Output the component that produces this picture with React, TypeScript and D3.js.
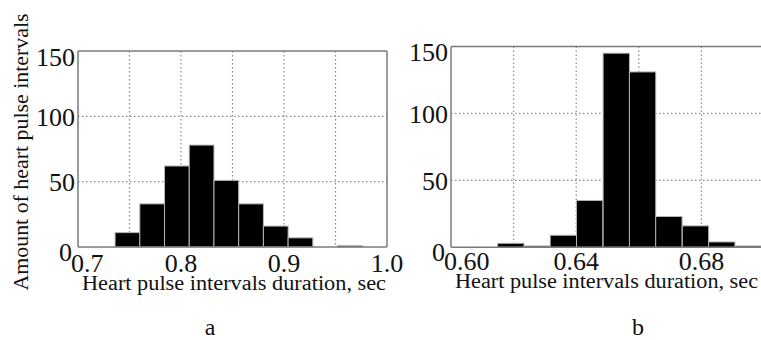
import React from 'react';
import * as d3 from 'd3';

// panel a: bin lower edges (sec) and counts
const leftBins = [0.736, 0.76, 0.784, 0.808, 0.832, 0.856, 0.88, 0.904, 0.928, 0.952, 0.976];
const leftCounts = [11, 33, 62, 78, 51, 33, 16, 7, 0, 1, 0];
const leftBinWidth = 0.024;
const leftGridX = [0.75, 0.8, 0.85, 0.9, 0.95];
const leftTickX = ['0.7', '0.8', '0.9', '1.0'];

// panel b
const rightBins = [0.6149, 0.6233, 0.6317, 0.6401, 0.6486, 0.657, 0.6654, 0.6739, 0.6823, 0.6907];
const rightCounts = [3, 1, 9, 35, 145, 131, 23, 16, 4, 1];
const rightBinWidth = 0.00842;
const rightGridX = [0.62, 0.64, 0.66, 0.68];
const rightTickX = ['0.60', '0.64', '0.68'];

const yTicks = [0, 50, 100, 150];
const yGrid = [50, 100];
const xTitle = 'Heart pulse intervals duration, sec';
const yTitle = 'Amount of heart pulse intervals';

const txt = { fontFamily: "'Liberation Serif', 'DejaVu Serif', 'Times New Roman', serif" };

const Panel = ({ domain, left, right, top, bottom, bins, counts, binWidth, gridX, tickX, boxRight, tickBase, titleBase, titleLen, letter, letterX }) => {
  const x = d3.scaleLinear().domain(domain).range([left, right]);
  const y = d3.scaleLinear().domain([0, 150]).range([bottom, top]);
  const axisColor = '#7a7a7a';
  return (
    <g>
      {/* grid */}
      {gridX.map((v) => (
        <line key={'gx' + v} x1={x(v)} x2={x(v)} y1={top} y2={bottom} stroke="#8a8a8a" strokeWidth={1.2} strokeDasharray="1.5,2.5" />
      ))}
      {yGrid.map((v) => (
        <line key={'gy' + v} x1={left} x2={right} y1={y(v)} y2={y(v)} stroke="#8a8a8a" strokeWidth={1.2} strokeDasharray="1.5,2.5" />
      ))}
      {/* bars */}
      {bins.map((b, i) =>
        counts[i] > 0 ? (
          <rect key={'b' + i} x={x(b)} y={y(counts[i])} width={x(b + binWidth) - x(b)} height={y(0) - y(counts[i])} fill="#000" stroke="#b5b5b5" strokeWidth={1} />
        ) : null
      )}
      {/* box */}
      <line x1={left} x2={left} y1={top} y2={bottom} stroke={axisColor} strokeWidth={1.5} />
      <line x1={left} x2={right} y1={top} y2={top} stroke={axisColor} strokeWidth={1.5} />
      <line x1={left} x2={right} y1={bottom} y2={bottom} stroke={axisColor} strokeWidth={1.5} />
      {boxRight && <line x1={right} x2={right} y1={top} y2={bottom} stroke={axisColor} strokeWidth={1.5} />}
      {/* y ticks */}
      {yTicks.map((v) => {
        const off = v === 150 ? 6 : v === 0 ? 5 : 1;
        return (
          <text key={'yt' + v} x={v === 0 ? left - 6 : left - 3} y={y(v) + off + 8.5} textAnchor="end" fontSize={26} style={txt} fill="#111">
            {v}
          </text>
        );
      })}
      {/* x ticks */}
      {tickX.map((t, i) => (
        <text key={'xt' + t} x={i === 0 ? left - 7 : x(+t)} y={tickBase} textAnchor={i === 0 ? 'start' : 'middle'} fontSize={26} style={txt} fill="#111">
          {t}
        </text>
      ))}
      <text x={left + 4} y={titleBase} fontSize={20} style={txt} fill="#111" textLength={titleLen} lengthAdjust="spacingAndGlyphs">
        {xTitle}
      </text>
      <text x={letterX} y={335} textAnchor="middle" fontSize={24} style={txt} fill="#111">
        {letter}
      </text>
    </g>
  );
};

export default function App() {
  return (
    <svg width={761} height={340} style={{ position: 'absolute', left: 0, top: 0, background: '#fff' }}>
      <rect width={761} height={340} fill="#fff" />
      <text transform="translate(28,152) rotate(-90)" textAnchor="middle" fontSize={20} style={txt} fill="#111" textLength={277} lengthAdjust="spacingAndGlyphs">
        {yTitle}
      </text>
      <Panel
        domain={[0.7, 1.0]}
        left={78}
        right={387}
        top={51}
        bottom={247}
        bins={leftBins}
        counts={leftCounts}
        binWidth={leftBinWidth}
        gridX={leftGridX}
        tickX={leftTickX}
        boxRight={true}
        tickBase={272}
        titleBase={290}
        titleLen={304}
        letter="a"
        letterX={210}
      />
      <Panel
        domain={[0.6, 0.7]}
        left={451}
        right={764}
        top={46.5}
        bottom={247.3}
        bins={rightBins}
        counts={rightCounts}
        binWidth={rightBinWidth}
        gridX={rightGridX}
        tickX={rightTickX}
        boxRight={false}
        tickBase={270}
        titleBase={288}
        titleLen={303}
        letter="b"
        letterX={638}
      />
    </svg>
  );
}
